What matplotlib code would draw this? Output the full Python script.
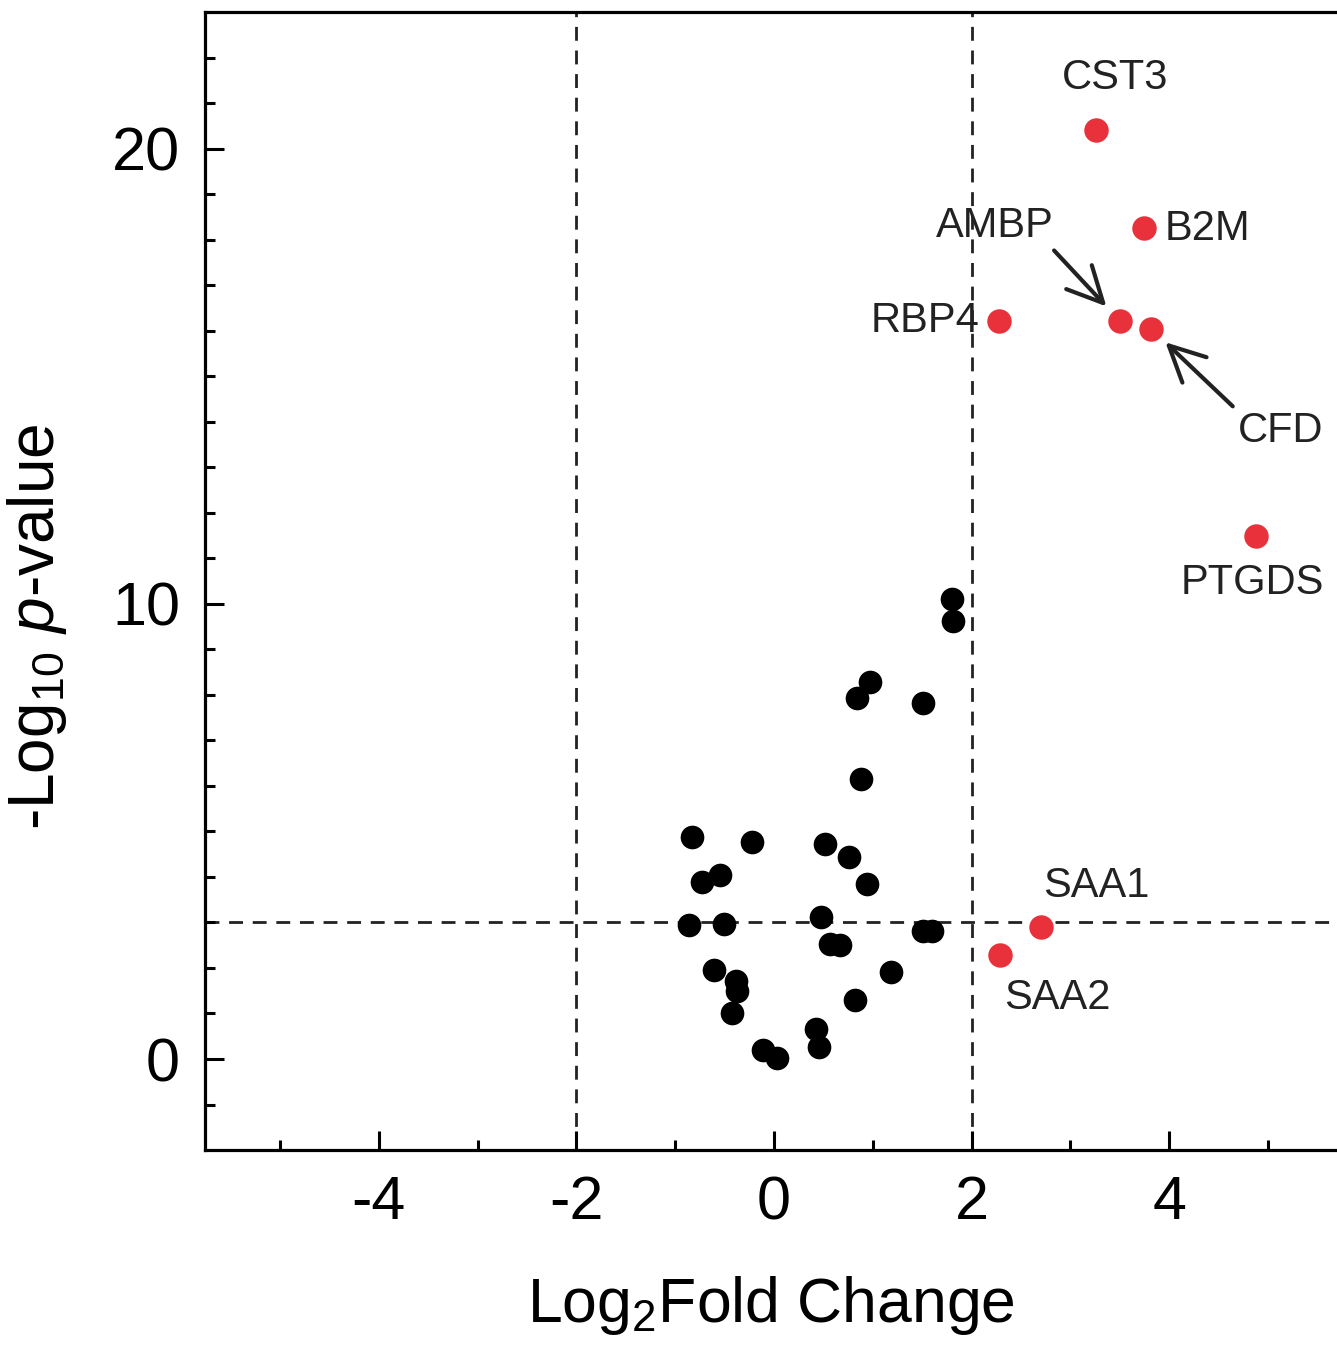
import matplotlib
matplotlib.use("Agg")
import matplotlib.pyplot as plt
import numpy as np

plt.rcParams['font.family'] = ['Liberation Sans', 'DejaVu Sans']
plt.rcParams['mathtext.fontset'] = 'custom'
plt.rcParams['mathtext.rm'] = 'Liberation Sans'
plt.rcParams['mathtext.it'] = 'Liberation Sans:italic'
plt.rcParams['axes.unicode_minus'] = False

# non-significant proteins (black)
fc_black = [1.80, 1.81, 0.97, 0.84, 1.51, 0.88, -0.83, -0.22, 0.52, 0.76,
            -0.55, -0.73, 0.94, 0.48, -0.86, -0.51, 1.51, 1.60, 0.57, 0.67,
            -0.61, 1.19, -0.38, -0.37, 0.82, -0.42, 0.43, 0.46, -0.11, 0.03]
p_black = [10.10, 9.63, 8.29, 7.92, 7.83, 6.15, 4.88, 4.77, 4.73, 4.44,
           4.04, 3.88, 3.85, 3.11, 2.95, 2.96, 2.81, 2.81, 2.53, 2.51,
           1.96, 1.91, 1.71, 1.49, 1.29, 1.00, 0.65, 0.26, 0.20, 0.03]

# significant proteins (red)
genes = ['CST3', 'B2M', 'RBP4', 'AMBP', 'CFD', 'PTGDS', 'SAA1', 'SAA2']
fc_red = [3.26, 3.75, 2.28, 3.50, 3.82, 4.88, 2.70, 2.29]
p_red = [20.4, 18.26, 16.22, 16.22, 16.04, 11.49, 2.90, 2.29]

fc_cut = [-2, 2]
p_cut = 3

fig = plt.figure(figsize=(13.37, 13.53), dpi=100)
ax = fig.add_axes([0.1533, 0.150, 0.8467, 0.8411])

ax.scatter(fc_black, p_black, s=290, color='black', zorder=3, linewidths=0)
ax.scatter(fc_red, p_red, s=310, color='#e8313a', zorder=3, linewidths=0)

for xc in fc_cut:
    ax.axvline(xc, color='#222222', lw=2, ls=(0, (5, 3.5)), zorder=1)
ax.axhline(p_cut, color='#222222', lw=2, ls=(0, (5, 3.5)), zorder=1)

# label offsets in pixels: (dx, dy, ha, arrow relpos)
lab = {
    'CST3': (19, 52, 'center', None),
    'B2M': (20, -1, 'left', None),
    'RBP4': (-20, 0, 'right', None),
    'AMBP': (-125, 95, 'center', (0.95, 0.05)),
    'CFD': (129, -102, 'center', (0.0, 1.0)),
    'PTGDS': (-4, -47, 'center', None),
    'SAA1': (56, 41, 'center', None),
    'SAA2': (57, -43, 'center', None),
}
for g, x, y in zip(genes, fc_red, p_red):
    dx, dy, ha, rel = lab[g]
    kw = {}
    if rel is not None:
        kw['arrowprops'] = dict(arrowstyle='->,head_length=0.85,head_width=0.42',
                                color='#222222', lw=3, relpos=rel,
                                shrinkA=2, shrinkB=14)
    ax.annotate(g, (x, y), xytext=(dx, dy), textcoords='offset pixels',
                ha=ha, va='center', fontsize=30, color='#222222', **kw)

ax.set_xlim(-5.76, 5.70)
ax.set_ylim(-2, 23)
ax.set_xticks([-4, -2, 0, 2, 4])
ax.set_xticks(np.arange(-5, 6, 2), minor=True)
ax.set_yticks([0, 10, 20])
ax.set_yticks([v for v in range(-1, 23) if v % 10 != 0], minor=True)

ax.spines['right'].set_visible(False)
for s in ['left', 'bottom', 'top']:
    ax.spines[s].set_linewidth(2.3)
ax.tick_params(which='both', direction='in', top=False, right=False, width=2.2,
               labelsize=44, pad=18)
ax.tick_params(which='major', length=14)
ax.tick_params(which='minor', length=7)

ax.set_xlabel('Log$_2$Fold Change', fontsize=45, labelpad=30)
ax.set_ylabel('-Log$_{10}$ $\\mathit{p}$-value', fontsize=46)
ax.yaxis.set_label_coords(-0.12, 0.46)

fig.savefig('out.png', dpi=100)
